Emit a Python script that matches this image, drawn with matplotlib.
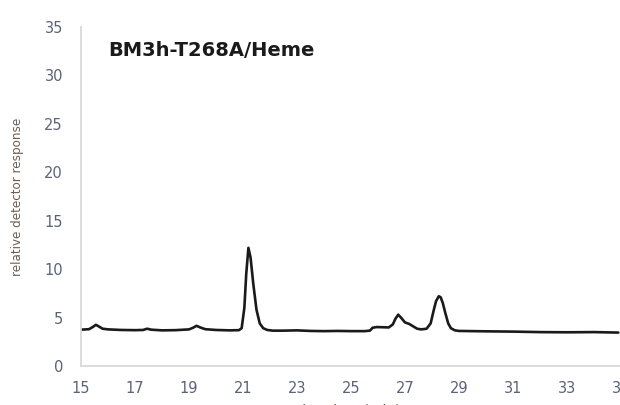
import matplotlib
matplotlib.use("Agg")
import matplotlib.pyplot as plt

# retention time (min) and detector response
time_min = [15.0, 15.3, 15.45, 15.55, 15.65, 15.8, 16.0, 16.5, 17.0, 17.3,
            17.45, 17.6, 18.0, 18.5, 19.0, 19.15, 19.28, 19.4, 19.6, 20.0,
            20.5, 20.85, 20.95, 21.05, 21.12, 21.2, 21.28, 21.38, 21.5, 21.62,
            21.75, 21.9, 22.1, 22.5, 23.0, 23.5, 24.0, 24.5, 25.0, 25.5,
            25.7, 25.8, 25.95, 26.2, 26.4, 26.55, 26.65, 26.75, 26.85, 27.0,
            27.15, 27.3, 27.45, 27.6, 27.8, 27.95, 28.05, 28.15, 28.25, 28.32,
            28.4, 28.5, 28.6, 28.7, 28.85, 29.0, 29.5, 30.0, 31.0, 32.0,
            33.0, 34.0, 34.9]
response = [3.75, 3.8, 4.05, 4.25, 4.1, 3.85, 3.78, 3.72, 3.7, 3.72,
            3.85, 3.75, 3.68, 3.7, 3.78, 3.95, 4.15, 4.0, 3.8, 3.72,
            3.68, 3.7, 3.9, 6.0, 9.5, 12.2, 11.2, 8.5, 5.8, 4.4,
            3.9, 3.72, 3.65, 3.65, 3.68, 3.62, 3.6, 3.62, 3.6, 3.6,
            3.65, 3.95, 4.02, 4.0, 3.98, 4.3, 4.9, 5.3, 5.0, 4.5,
            4.35, 4.1, 3.85, 3.78, 3.85, 4.4, 5.6, 6.7, 7.2, 7.1,
            6.5, 5.4, 4.4, 3.9, 3.68, 3.62, 3.6, 3.58, 3.55, 3.5,
            3.48, 3.5, 3.45]

x_ticks = [15, 17, 19, 21, 23, 25, 27, 29, 31, 33, 35]
y_ticks = [0, 5, 10, 15, 20, 25, 30, 35]

fig = plt.figure(figsize=(6.2, 4.05), dpi=100)
ax = fig.add_axes([81 / 620, 39 / 405, 540 / 620, 339 / 405])

ax.plot(time_min, response, color="#1a1a1a", linewidth=1.9,
        solid_joinstyle="round", solid_capstyle="round")

ax.set_xlim(15, 35)
ax.set_ylim(0, 35)
ax.set_xticks(x_ticks)
ax.set_yticks(y_ticks)
ax.tick_params(length=0, labelsize=10.5, colors="#5a6478")
ax.tick_params(axis="x", pad=11)
ax.tick_params(axis="y", pad=13)

for side in ["top", "right"]:
    ax.spines[side].set_visible(False)
for side in ["left", "bottom"]:
    ax.spines[side].set_color("#d9d9d9")
    ax.spines[side].set_linewidth(1.3)

ax.text(27 / 540, 0.931, "BM3h-T268A/Heme", transform=ax.transAxes,
        fontsize=14, fontweight="bold", family="DejaVu Sans",
        color="#1a1a1a", va="center", ha="left")

ax.set_ylabel("relative detector response", fontsize=9.5,
              family="DejaVu Sans", fontstretch="condensed",
              color="#6b5e52")
ax.yaxis.set_label_coords(-57 / 540, 0.5)
ax.set_xlabel("retention time (min)", fontsize=10, color="#6b5e52")
ax.xaxis.set_label_coords(249 / 540, -38 / 339)

fig.savefig("out.png", dpi=100)
